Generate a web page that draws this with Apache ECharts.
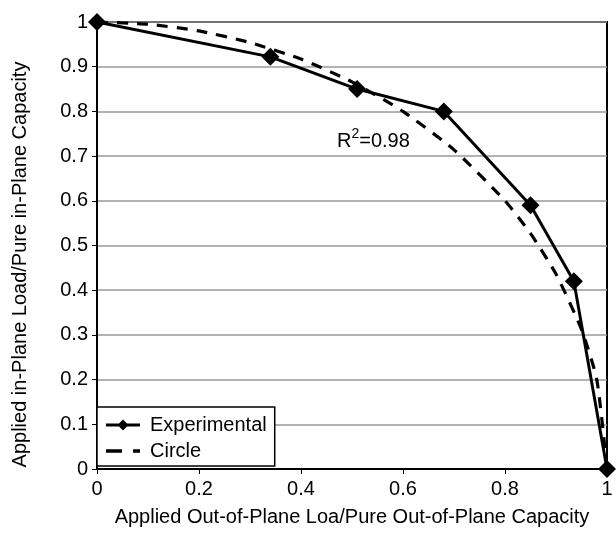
<!DOCTYPE html>
<html><head><meta charset="utf-8">
<script src="https://cdn.jsdelivr.net/npm/echarts@6/dist/echarts.min.js"></script>
<style>html,body{margin:0;padding:0;background:#fff}#c{width:616px;height:544px}</style>
</head><body><div id="c"></div>
<script>
const expX = [0, 0.34, 0.51, 0.68, 0.85, 0.935, 1];
const expY = [1, 0.922, 0.85, 0.80, 0.59, 0.42, 0];
const circX = [0, 0.1, 0.2, 0.3, 0.4, 0.5, 0.6, 0.7, 0.8, 0.85, 0.9, 0.95, 0.98, 1];
const circY = [1, 0.995, 0.98, 0.954, 0.917, 0.866, 0.8, 0.714, 0.6, 0.527, 0.436, 0.312, 0.2, 0];
const xTicks = [0, 0.2, 0.4, 0.6, 0.8, 1];
const yTicks = [0, 0.1, 0.2, 0.3, 0.4, 0.5, 0.6, 0.7, 0.8, 0.9, 1];
const seriesNames = ['Experimental', 'Circle'];
const xTitle = 'Applied Out-of-Plane Loa/Pure Out-of-Plane Capacity';
const yTitle = 'Applied in-Plane Load/Pure in-Plane Capacity';

const font = 'Liberation Sans, Arial, sans-serif';
const chart = echarts.init(document.getElementById('c'));
const zip = (a, b) => a.map((v, i) => [v, b[i]]);
chart.setOption({
  animation: false,
  grid: { left: 97, right: 9, top: 22, bottom: 75, show: true, borderColor: '#000', borderWidth: 2, backgroundColor: 'transparent' },
  xAxis: {
    type: 'value', min: 0, max: 1, interval: 0.2,
    name: xTitle, nameLocation: 'middle', nameGap: 38,
    nameTextStyle: { fontFamily: font, fontSize: 20, color: '#000' },
    axisLine: { show: true, onZero: false, lineStyle: { color: '#000', width: 2 } },
    axisTick: { show: true, length: 5, lineStyle: { color: '#000' } },
    axisLabel: { fontFamily: font, fontSize: 20, color: '#000', margin: 10, formatter: v => String(+v.toFixed(2)) },
    splitLine: { show: false }
  },
  yAxis: {
    type: 'value', min: 0, max: 1, interval: 0.1,
    name: yTitle, nameLocation: 'middle', nameGap: 67,
    nameTextStyle: { fontFamily: font, fontSize: 20, color: '#000', padding: [0, 38, 0, 0] },
    axisLine: { show: true, onZero: false, lineStyle: { color: '#000', width: 2 } },
    axisTick: { show: true, length: 5, lineStyle: { color: '#000' } },
    axisLabel: { fontFamily: font, fontSize: 20, color: '#000', margin: 9, formatter: v => String(+v.toFixed(1)) },
    splitLine: { show: true, lineStyle: { color: '#999', width: 1.5 } }
  },
  legend: {
    left: 97, top: 407, orient: 'vertical',
    backgroundColor: '#fff', borderColor: '#000', borderWidth: 1.5,
    padding: [8, 8, 5, 9], itemGap: 6, itemWidth: 34, itemHeight: 12,
    textStyle: { fontFamily: font, fontSize: 20, color: '#000', padding: [0, 0, 0, 5] },
    data: [
      { name: seriesNames[0], icon: 'path://M0,4.5 L13,4.5 L17,0.5 L21,4.5 L34,4.5 L34,7.5 L21,7.5 L17,11.5 L13,7.5 L0,7.5 Z' },
      { name: seriesNames[1], icon: 'path://M0,4.3 L16,4.3 L16,7.7 L0,7.7 Z M27,4.3 L34,4.3 L34,7.7 L27,7.7 Z' }
    ]
  },
  series: [
    {
      name: seriesNames[1], type: 'line', data: zip(circX, circY), smooth: 0.2,
      symbol: 'none', itemStyle: { color: '#000' },
      lineStyle: { color: '#000', width: 3.2, type: [11, 9] }, z: 2
    },
    {
      name: seriesNames[0], type: 'line', data: zip(expX, expY),
      symbol: 'diamond', symbolSize: 18, itemStyle: { color: '#000' },
      lineStyle: { color: '#000', width: 3 }, z: 3
    }
  ],
  graphic: [{
    type: 'text', left: 337, top: 127, z: 10,
    style: {
      text: '{a|R}{s|2}{a|=0.98}',
      rich: {
        a: { fontFamily: font, fontSize: 20, fill: '#000', verticalAlign: 'bottom', lineHeight: 24 },
        s: { fontFamily: font, fontSize: 14, fill: '#000', verticalAlign: 'top', lineHeight: 24, padding: [0, 0, 10, 0] }
      }
    }
  }]
});
</script></body></html>
